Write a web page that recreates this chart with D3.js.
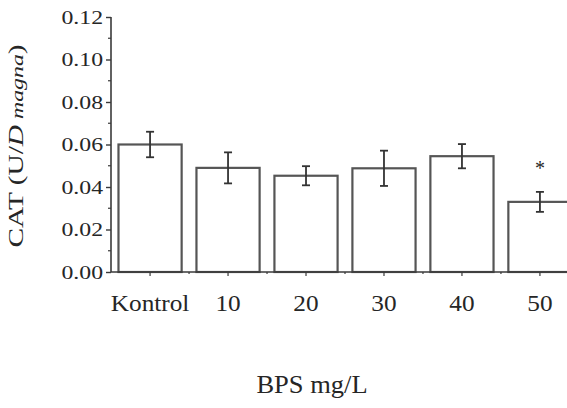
<!DOCTYPE html>
<html>
<head>
<meta charset="utf-8">
<script src="https://cdn.jsdelivr.net/npm/d3@7"></script>
<style>
  html, body { margin: 0; padding: 0; background: #fff; overflow: hidden; }
  svg { display: block; }
  text { font-family: "Liberation Serif", "Times New Roman", serif; fill: #262626; }
</style>
</head>
<body>
<svg id="chart" width="567" height="408"></svg>
<script>
const categories = ["Kontrol", "10", "20", "30", "40", "50"];
const means = [0.060, 0.049, 0.0453, 0.0488, 0.0545, 0.0330];
const errors = [0.0060, 0.0073, 0.0045, 0.0083, 0.0057, 0.0047];
const significant = [false, false, false, false, false, true];
const yTicks = [0.00, 0.02, 0.04, 0.06, 0.08, 0.10, 0.12];
const yMinorTicks = [0.01, 0.03, 0.05, 0.07, 0.09, 0.11];
const yTitleMain = "CAT (U/";
const yTitleItalic = "D";
const yTitleSmall = "magna";
const xTitle = "BPS mg/L";

const svg = d3.select("#chart");
const x = d3.scaleBand().domain(categories).range([111, 579]).paddingInner(0.19).paddingOuter(0.096);
const y = d3.scaleLinear().domain([0, 0.12]).range([272, 17]);

const axisColor = "#3a3a3a";
const barColor = "#555";

// Bars
svg.append("g").selectAll("rect").data(categories).join("rect")
  .attr("x", d => x(d))
  .attr("y", (d, i) => y(means[i]))
  .attr("width", x.bandwidth())
  .attr("height", (d, i) => y(0) - y(means[i]))
  .attr("fill", "#fff")
  .attr("stroke", barColor)
  .attr("stroke-width", 2.2);

// Error bars
const eg = svg.append("g").attr("stroke", "#333").attr("stroke-width", 1.8);
categories.forEach((c, i) => {
  const cx = x(c) + x.bandwidth() / 2;
  const top = y(means[i] + errors[i]);
  const bot = y(means[i] - errors[i]);
  eg.append("line").attr("x1", cx).attr("x2", cx).attr("y1", top).attr("y2", bot);
  eg.append("line").attr("x1", cx - 4).attr("x2", cx + 4).attr("y1", top).attr("y2", top);
  eg.append("line").attr("x1", cx - 4).attr("x2", cx + 4).attr("y1", bot).attr("y2", bot);
});

// Significance marker
categories.forEach((c, i) => {
  if (!significant[i]) return;
  const cx = x(c) + x.bandwidth() / 2;
  svg.append("text").attr("x", cx).attr("y", y(means[i] + errors[i]) - 17)
    .attr("text-anchor", "middle").attr("font-size", 20).text("*");
});

// Y axis
const yAxis = svg.append("g").attr("transform", "translate(111,0)")
  .call(d3.axisLeft(y).tickValues(yTicks).tickFormat(d3.format(".2f")).tickSize(5).tickPadding(0));
yAxis.select(".domain").attr("stroke", axisColor).attr("stroke-width", 1.6).attr("d", `M0,${y(0.12)}V${y(0)}`);
yAxis.selectAll(".tick line").attr("stroke", axisColor).attr("stroke-width", 1.4);
yAxis.selectAll(".tick text")
  .attr("x", null).attr("dy", null)
  .attr("text-anchor", "end")
  .attr("font-size", 19)
  .attr("transform", "translate(-8,6) scale(1.25,1)");
svg.append("g").selectAll("line").data(yMinorTicks).join("line")
  .attr("x1", 108).attr("x2", 111)
  .attr("y1", d => y(d)).attr("y2", d => y(d))
  .attr("stroke", axisColor).attr("stroke-width", 1.2);

// X axis
svg.append("line").attr("x1", 111).attr("x2", 567).attr("y1", y(0)).attr("y2", y(0))
  .attr("stroke", axisColor).attr("stroke-width", 1.6);
svg.append("g").selectAll("line").data(categories).join("line")
  .attr("x1", d => x(d) + x.bandwidth() / 2).attr("x2", d => x(d) + x.bandwidth() / 2)
  .attr("y1", y(0)).attr("y2", y(0) + 4)
  .attr("stroke", axisColor).attr("stroke-width", 1.2);
svg.append("g").selectAll("line").data(categories.slice(1)).join("line")
  .attr("x1", d => x(d) - x.step() * x.paddingInner() / 2).attr("x2", d => x(d) - x.step() * x.paddingInner() / 2)
  .attr("y1", y(0)).attr("y2", y(0) + 2)
  .attr("stroke", axisColor).attr("stroke-width", 1.2);

svg.append("g").selectAll("text").data(categories).join("text")
  .attr("transform", d => `translate(${x(d) + x.bandwidth() / 2},311) scale(1.1,1)`)
  .attr("text-anchor", "middle")
  .attr("font-size", 23)
  .text(d => d);

// Axis titles
svg.append("text")
  .attr("transform", "translate(312,393) scale(1.06,1)")
  .attr("text-anchor", "middle").attr("font-size", 25)
  .text(xTitle);

const yt = svg.append("text")
  .attr("transform", "translate(23,146) rotate(-90) scale(1.4,1)")
  .attr("text-anchor", "middle").attr("font-size", 21);
yt.append("tspan").text(yTitleMain);
yt.append("tspan").attr("font-style", "italic").text(yTitleItalic);
yt.append("tspan").attr("font-style", "italic").attr("font-size", 17).text(" " + yTitleSmall);
yt.append("tspan").text(")");
</script>
</body>
</html>
